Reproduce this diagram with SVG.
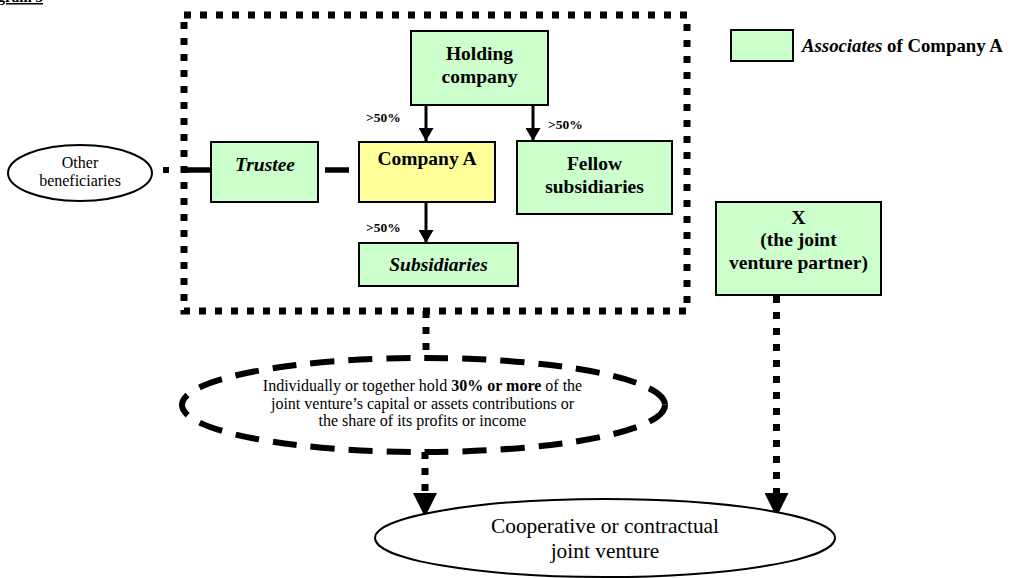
<svg xmlns="http://www.w3.org/2000/svg" width="1013" height="578" viewBox="0 0 1013 578">
<style>
  text { font-family: "Liberation Serif", "Times New Roman", serif; fill: #000; }
  .box { stroke: #000; stroke-width: 2; }
  .green { fill: #CCFFCC; }
  .yellow { fill: #FFFF99; }
  .lbl { font-size: 19.5px; font-weight: bold; text-anchor: middle; }
  .pct { font-size: 13.5px; font-weight: bold; }
  .dotted { fill: none; stroke: #000; stroke-width: 7; stroke-dasharray: 7 9; }
  .solid { fill: none; stroke: #000; stroke-width: 3; }
  .thick { fill: none; stroke: #000; stroke-width: 5.5; }
</style>
<defs>
  <marker id="arrS" markerUnits="userSpaceOnUse" viewBox="0 0 13 15" markerWidth="13" markerHeight="15" refX="13" refY="7.5" orient="auto">
    <path d="M0,0 L13,7.5 L0,15 Z" fill="#000"/>
  </marker>
  <marker id="arrL" markerUnits="userSpaceOnUse" viewBox="0 0 24 24" markerWidth="24" markerHeight="24" refX="24" refY="12" orient="auto">
    <path d="M0,0 L24,12 L0,24 Z" fill="#000"/>
  </marker>
</defs>
<rect width="1013" height="578" fill="#fff"/>

<g id="title">
  <text x="43" y="2" font-size="15px" font-weight="bold" text-anchor="end" text-decoration="underline">Diagram 5</text>
</g>

<g id="group-boundary">
  <rect x="184" y="15" width="503" height="296" class="dotted"/>
</g>

<g id="connectors">
  <line x1="426" y1="105" x2="426" y2="141" class="solid" marker-end="url(#arrS)"/>
  <line x1="533" y1="105" x2="533" y2="141" class="solid" marker-end="url(#arrS)"/>
  <line x1="426" y1="202" x2="426" y2="243" class="solid" marker-end="url(#arrS)"/>
  <rect x="163" y="167" width="6" height="6" fill="#000"/>
  <line x1="186" y1="170" x2="211" y2="170" class="thick"/>
  <line x1="325" y1="170" x2="349" y2="170" class="thick"/>
  <line x1="426" y1="311" x2="426" y2="352" class="dotted"/>
  <line x1="425" y1="452" x2="425" y2="517" class="dotted" marker-end="url(#arrL)"/>
  <line x1="776.5" y1="296" x2="776.5" y2="517" class="dotted" marker-end="url(#arrL)"/>
</g>

<g id="label-pct">
  <text x="366" y="122" class="pct">&gt;50%</text>
  <text x="548" y="128.5" class="pct">&gt;50%</text>
  <text x="366" y="232" class="pct">&gt;50%</text>
</g>

<g id="holding">
  <rect x="411" y="31" width="137" height="74" class="box green"/>
  <text x="479.5" y="60" class="lbl">Holding</text>
  <text x="479.5" y="82.5" class="lbl">company</text>
</g>

<g id="company-a">
  <rect x="359" y="142" width="136" height="60" class="box yellow"/>
  <text x="427" y="165" class="lbl">Company A</text>
</g>

<g id="fellow">
  <rect x="517" y="141" width="155" height="73" class="box green"/>
  <text x="594.5" y="170" class="lbl">Fellow</text>
  <text x="594.5" y="192.5" class="lbl">subsidiaries</text>
</g>

<g id="subsidiaries">
  <rect x="359" y="243" width="159" height="43" class="box green"/>
  <text x="438.5" y="271" class="lbl" font-style="italic">Subsidiaries</text>
</g>

<g id="trustee">
  <rect x="211" y="142" width="107" height="60" class="box green"/>
  <text x="265" y="171" class="lbl" font-style="italic">Trustee</text>
</g>

<g id="other-beneficiaries">
  <ellipse cx="80" cy="173" rx="72" ry="28" fill="#fff" stroke="#000" stroke-width="2"/>
  <text x="80" y="167.5" font-size="16px" text-anchor="middle">Other</text>
  <text x="80" y="185.5" font-size="16px" text-anchor="middle">beneficiaries</text>
</g>

<g id="x-partner">
  <rect x="716" y="202" width="165" height="93" class="box green"/>
  <text x="798.5" y="223.5" class="lbl" font-size="19px">X</text>
  <text x="798.5" y="246" class="lbl" font-size="19px">(the joint</text>
  <text x="798.5" y="268.5" class="lbl" font-size="19px">venture partner)</text>
</g>

<g id="legend">
  <rect x="731" y="30" width="62" height="31" class="box green"/>
  <text x="802" y="52" font-size="18.8px" font-weight="bold"><tspan font-style="italic">Associates</tspan> of Company A</text>
</g>

<g id="condition">
  <ellipse cx="423.5" cy="405" rx="241.5" ry="47" fill="none" stroke="#000" stroke-width="6" stroke-dasharray="24 14"/>
  <text x="422.5" y="391" font-size="16px" text-anchor="middle">Individually or together hold <tspan font-weight="bold">30% or more</tspan> of the</text>
  <text x="422.5" y="408.5" font-size="16px" text-anchor="middle">joint venture’s capital or assets contributions or</text>
  <text x="422.5" y="426" font-size="16px" text-anchor="middle">the share of its profits or income</text>
</g>

<g id="joint-venture">
  <ellipse cx="605" cy="538" rx="230" ry="39" fill="#fff" stroke="#000" stroke-width="2"/>
  <text x="605" y="533" font-size="21.4px" text-anchor="middle">Cooperative or contractual</text>
  <text x="605" y="558" font-size="21.4px" text-anchor="middle">joint venture</text>
</g>
</svg>
